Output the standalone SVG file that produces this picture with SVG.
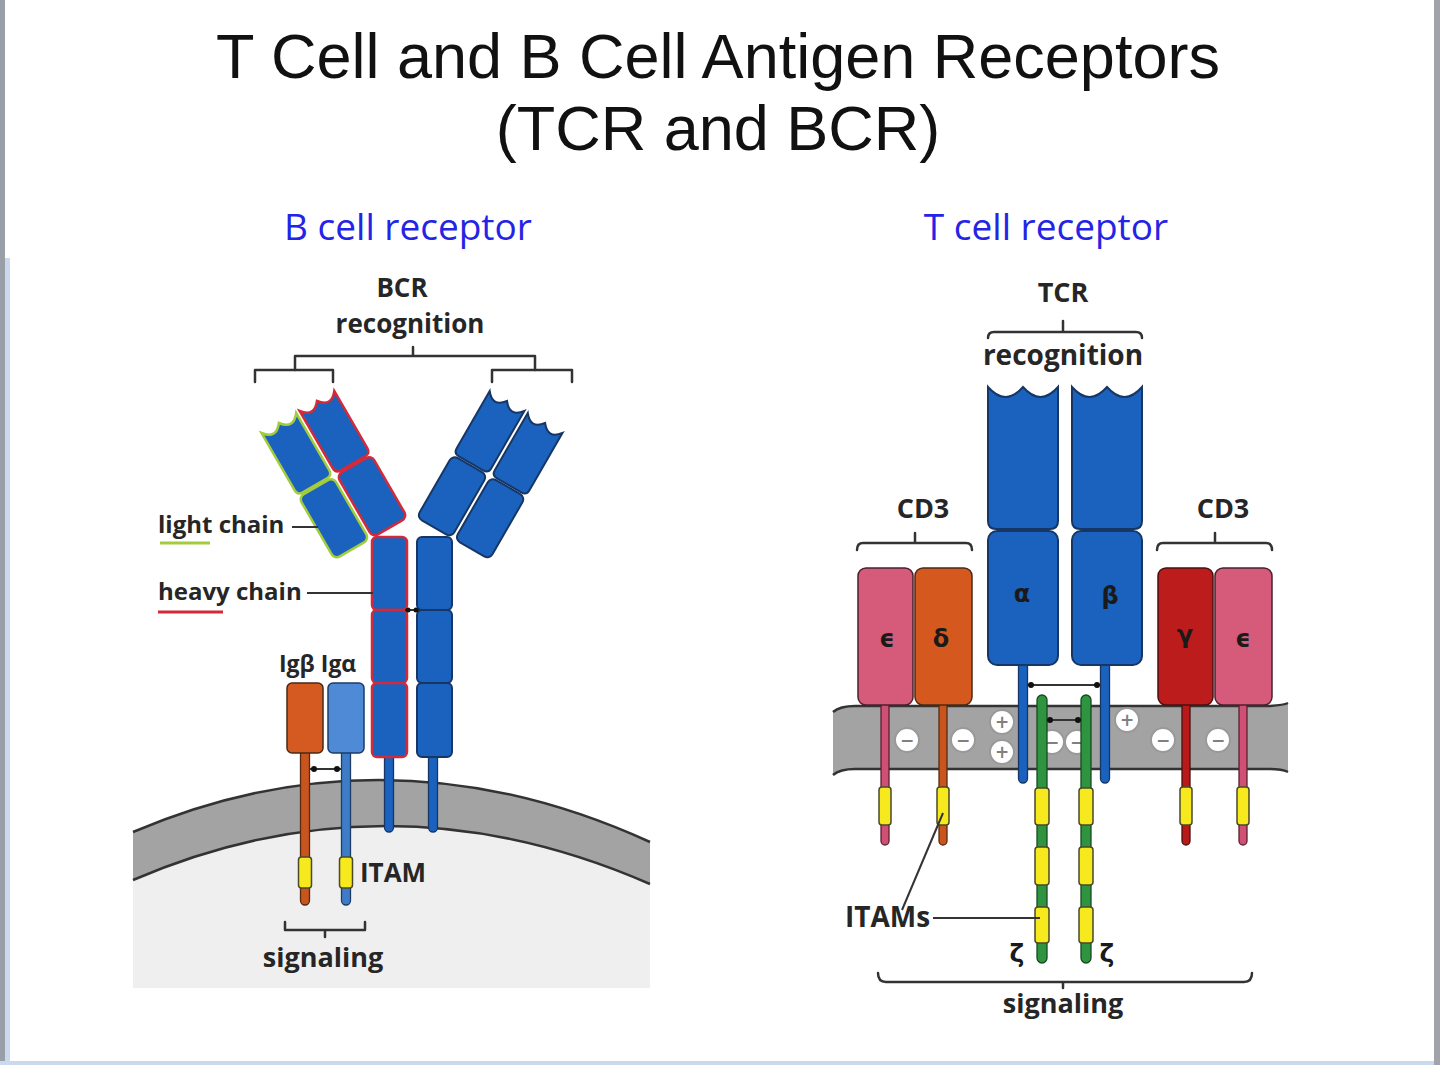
<svg xmlns="http://www.w3.org/2000/svg" width="1440" height="1065" viewBox="0 0 1440 1065">
<style>
.ttl{font-family:"Liberation Sans",Arial,sans-serif;fill:#111;text-anchor:middle;font-size:63px}
.sub{font-family:"Open Sans","Noto Sans",sans-serif;fill:#2424E6;text-anchor:middle;font-size:37px}
.lbl{font-family:"Open Sans","DejaVu Sans",sans-serif;font-weight:700;fill:#262626;font-size:27px}
.mid{text-anchor:middle}
.gk{font-family:"DejaVu Sans","Open Sans",sans-serif;font-weight:700;fill:#1a1a1a;font-size:24px;text-anchor:middle}
.dom{fill:#1A62BE;stroke:#163766;stroke-width:2}
.red{stroke:#D12B3B;stroke-width:2.5}
.grn{stroke:#A2CC3E;stroke-width:2.5}
.br{fill:none;stroke:#333;stroke-width:2.5;stroke-linejoin:round;stroke-linecap:round}
.ln{fill:none;stroke:#333;stroke-width:2}
.itam{fill:#F6EA1E;stroke:#4a4a2a;stroke-width:1.5}
.tl{stroke-width:1.3}
.ch{fill:#fff;stroke:#999;stroke-width:2}
.cs{font-family:"DejaVu Sans",sans-serif;font-weight:700;fill:#808080;font-size:17px;text-anchor:middle}
.dot{fill:#111}
.memf{fill:#A3A3A3}
.meme{fill:none;stroke:#333;stroke-width:2.5}
</style>
<defs>
<path id="vdom" d="M-20,0 Q-10,13 0,0 Q10,13 20,0 L20,66 Q20,72 14,72 L-14,72 Q-20,72 -20,66 Z"/>
</defs>
<rect width="1440" height="1065" fill="#fff"/>
<g id="frame">
<rect x="0" y="0" width="5" height="1065" fill="#9A9EA6"/>
<rect x="5" y="258" width="5" height="807" fill="#CBD9EE"/>
<rect x="0" y="1061" width="1440" height="4" fill="#CBD9EE"/>
<rect x="1434" y="0" width="6" height="1065" fill="#A0A4AA"/>
</g>
<g id="title">
<text class="ttl" x="718" y="78">T Cell and B Cell Antigen Receptors</text>
<text class="ttl" x="718" y="150">(TCR and BCR)</text>
</g>
<g id="subtitles">
<text class="sub" x="408" y="240">B cell receptor</text>
<text class="sub" x="1046" y="240">T cell receptor</text>
</g>

<!-- BCR -->
<g id="bcr-cell">
<path d="M133,880 Q389,770 650,884 L650,988 L133,988 Z" fill="#EFEFEF"/>
<path class="memf" d="M133,832 Q389,723 650,842 L650,884 Q389,770 133,880 Z"/>
<path class="meme" d="M133,832 Q389,723 650,842"/>
<path class="meme" d="M133,880 Q389,770 650,884"/>
</g>
<g id="bcr-fab-left" transform="translate(317,401) rotate(-30)">
<g id="heavy-fab-left">
<use href="#vdom" class="dom red"/>
<rect class="dom red" x="-20" y="74" width="40" height="72" rx="6"/>
</g>
<g id="light-chain-left" transform="translate(-44,0)">
<use href="#vdom" class="dom grn"/>
<rect class="dom grn" x="-20" y="74" width="40" height="72" rx="6"/>
</g>
</g>
<g id="bcr-fab-right" transform="translate(507,401) rotate(30)">
<use href="#vdom" class="dom"/>
<rect class="dom" x="-20" y="74" width="40" height="72" rx="6"/>
<g transform="translate(44,0)">
<use href="#vdom" class="dom"/>
<rect class="dom" x="-20" y="74" width="40" height="72" rx="6"/>
</g>
</g>
<g id="bcr-heavy-tails">
<rect x="384.5" y="750" width="9" height="82" rx="4.5" fill="#1A62BE" stroke="#163766" class="tl"/>
<rect x="428.5" y="750" width="9" height="82" rx="4.5" fill="#1A62BE" stroke="#163766" class="tl"/>
</g>
<g id="bcr-heavy-stem-left">
<rect class="dom red" x="372" y="537" width="35" height="73" rx="5"/>
<rect class="dom red" x="372" y="610" width="35" height="73" rx="5"/>
<rect class="dom red" x="372" y="683" width="35" height="74" rx="5"/>
</g>
<g id="bcr-heavy-stem-right">
<rect class="dom" x="417" y="537" width="35" height="73" rx="5"/>
<rect class="dom" x="417" y="610" width="35" height="73" rx="5"/>
<rect class="dom" x="417" y="683" width="35" height="74" rx="5"/>
</g>
<g id="ig-beta">
<rect x="300.5" y="748" width="9" height="157" rx="4.5" fill="#C8541E" stroke="#5a2a10" class="tl"/>
<rect x="287" y="683" width="36" height="70" rx="5" fill="#D45A22" stroke="#4a2a14" stroke-width="1.5"/>
<rect class="itam" x="298.5" y="857" width="13" height="31" rx="3"/>
</g>
<g id="ig-alpha">
<rect x="341.5" y="748" width="9" height="157" rx="4.5" fill="#3F7CC8" stroke="#1d3d66" class="tl"/>
<rect x="328" y="683" width="36" height="70" rx="5" fill="#4F8AD6" stroke="#1d3d66" stroke-width="1.5"/>
<rect class="itam" x="339.5" y="857" width="13" height="31" rx="3"/>
</g>
<g id="bcr-labels">
<text class="lbl mid" x="402" y="297" style="font-size:26px">BCR</text>
<text class="lbl mid" x="410" y="333" style="font-size:26px">recognition</text>
<text class="lbl" x="158" y="533" style="font-size:24px">light chain</text>
<text class="lbl" x="158" y="600" style="font-size:24px">heavy chain</text>
<text class="lbl" x="279" y="672" style="font-size:23px">Igβ Igα</text>
<text class="lbl" x="360" y="882" style="font-size:26px">ITAM</text>
<text class="lbl mid" x="323" y="967">signaling</text>
</g>

<!-- TCR -->
<g id="tcr-membrane">
<path class="memf" d="M833,712 Q840,706 855,706 L1270,706 Q1284,705 1288,703 L1288,772 Q1282,769 1270,769 L855,769 Q840,769 833,775 Z"/>
<path class="meme" d="M833,712 Q840,706 855,706 L1270,706 Q1284,705 1288,703"/>
<path class="meme" d="M833,775 Q840,769 855,769 L1270,769 Q1282,769 1288,772"/>
</g>
<g id="charges">
<circle class="ch" cx="907" cy="740" r="12"/><text class="cs" x="907" y="746">−</text>
<circle class="ch" cx="963" cy="740" r="12"/><text class="cs" x="963" y="746">−</text>
<circle class="ch" cx="1002" cy="722" r="12"/><text class="cs" x="1002" y="728">+</text>
<circle class="ch" cx="1002" cy="752" r="12"/><text class="cs" x="1002" y="758">+</text>
<circle class="ch" cx="1052" cy="742" r="12"/><text class="cs" x="1052" y="748">−</text>
<circle class="ch" cx="1077" cy="742" r="12"/><text class="cs" x="1077" y="748">−</text>
<circle class="ch" cx="1127" cy="720" r="12"/><text class="cs" x="1127" y="726">+</text>
<circle class="ch" cx="1163" cy="740" r="12"/><text class="cs" x="1163" y="746">−</text>
<circle class="ch" cx="1218" cy="740" r="12"/><text class="cs" x="1218" y="746">−</text>
</g>
<g id="cd3-epsilon-left">
<rect x="881" y="700" width="8" height="145" rx="4" fill="#CF5074" stroke="#5a2030" class="tl"/>
<rect x="858" y="568" width="55" height="137" rx="8" fill="#D65A7A" stroke="#4a2030" stroke-width="1.5"/>
<rect class="itam" x="879" y="787" width="12" height="38" rx="3"/>
<text class="gk" x="887" y="647">ϵ</text>
</g>
<g id="cd3-delta">
<rect x="939" y="700" width="8" height="145" rx="4" fill="#C8541E" stroke="#5a2a10" class="tl"/>
<rect x="915" y="568" width="57" height="137" rx="8" fill="#D5591F" stroke="#4a2a14" stroke-width="1.5"/>
<rect class="itam" x="937" y="787" width="12" height="38" rx="3"/>
<text class="gk" x="941" y="647">δ</text>
</g>
<g id="cd3-gamma">
<rect x="1182" y="700" width="8" height="145" rx="4" fill="#B81A1A" stroke="#4a1010" class="tl"/>
<rect x="1158" y="568" width="55" height="137" rx="8" fill="#BD1C1C" stroke="#4a1010" stroke-width="1.5"/>
<rect class="itam" x="1180" y="787" width="12" height="38" rx="3"/>
<text class="gk" x="1185" y="643">γ</text>
</g>
<g id="cd3-epsilon-right">
<rect x="1239" y="700" width="8" height="145" rx="4" fill="#CF5074" stroke="#5a2030" class="tl"/>
<rect x="1215" y="568" width="57" height="137" rx="8" fill="#D65A7A" stroke="#4a2030" stroke-width="1.5"/>
<rect class="itam" x="1237" y="787" width="12" height="38" rx="3"/>
<text class="gk" x="1243" y="647">ϵ</text>
</g>
<g id="tcr-alpha">
<rect x="1018.5" y="660" width="9" height="123" rx="4.5" fill="#1A62BE" stroke="#163766" class="tl"/>
<path class="dom" d="M988,387 Q1005.5,407 1023,387 Q1040.5,407 1058,387 L1058,521 Q1058,529 1050,529 L996,529 Q988,529 988,521 Z"/>
<rect class="dom" x="988" y="531" width="70" height="134" rx="9"/>
<text class="gk" x="1022" y="602">α</text>
</g>
<g id="tcr-beta">
<rect x="1100.5" y="660" width="9" height="123" rx="4.5" fill="#1A62BE" stroke="#163766" class="tl"/>
<path class="dom" d="M1072,387 Q1089.5,407 1107,387 Q1124.5,407 1142,387 L1142,521 Q1142,529 1134,529 L1080,529 Q1072,529 1072,521 Z"/>
<rect class="dom" x="1072" y="531" width="70" height="134" rx="9"/>
<text class="gk" x="1110" y="604">β</text>
</g>
<g id="zeta-left">
<rect x="1037" y="695" width="10" height="268" rx="5" fill="#2E9440" stroke="#174a20" class="tl"/>
<rect class="itam" x="1035" y="788" width="14" height="37" rx="3"/>
<rect class="itam" x="1035" y="847" width="14" height="38" rx="3"/>
<rect class="itam" x="1035" y="907" width="14" height="36" rx="3"/>
<text class="gk" x="1017" y="962" style="font-size:25px">ζ</text>
</g>
<g id="zeta-right">
<rect x="1081" y="695" width="10" height="268" rx="5" fill="#2E9440" stroke="#174a20" class="tl"/>
<rect class="itam" x="1079" y="788" width="14" height="37" rx="3"/>
<rect class="itam" x="1079" y="847" width="14" height="38" rx="3"/>
<rect class="itam" x="1079" y="907" width="14" height="36" rx="3"/>
<text class="gk" x="1107" y="962" style="font-size:25px">ζ</text>
</g>
<g id="tcr-labels">
<text class="lbl mid" x="1063" y="302">TCR</text>
<text class="lbl mid" x="1063" y="365" style="font-size:28px">recognition</text>
<text class="lbl mid" x="923" y="518">CD3</text>
<text class="lbl mid" x="1223" y="518">CD3</text>
<text class="lbl" x="845" y="927" style="font-size:28px">ITAMs</text>
<text class="lbl mid" x="1063" y="1013">signaling</text>
</g>

<g id="connectors">
<path class="br" d="M295,370 L295,356 L535,356 L535,370 M413,356 L413,347"/>
<path class="br" d="M255,382 L255,370 L333,370 L333,382"/>
<path class="br" d="M492,382 L492,370 L572,370 L572,382"/>
<path class="br" d="M285,922 L285,930 L365,930 L365,922 M325,930 L325,937"/>
<path class="ln" d="M292,527 L318,527"/>
<path class="ln" d="M307,593 L373,593"/>
<path d="M160,543 L210,543" stroke="#A2CC3E" stroke-width="3"/>
<path d="M158,612 L223,612" stroke="#D12B3B" stroke-width="3"/>
<path class="ln" d="M310,769 L341,769"/>
<circle class="dot" cx="314" cy="769" r="3"/><circle class="dot" cx="337" cy="769" r="3"/>
<path class="ln" d="M405,610 L419,610"/>
<circle class="dot" cx="408" cy="610" r="2.5"/><circle class="dot" cx="416" cy="610" r="2.5"/>
<path class="br" d="M988,338 Q988,332 994,332 L1136,332 Q1142,332 1142,338 M1063,332 L1063,321"/>
<path class="br" d="M857,550 Q857,543 863,543 L966,543 Q972,543 972,550 M915,543 L915,533"/>
<path class="br" d="M1157,550 Q1157,543 1163,543 L1266,543 Q1272,543 1272,550 M1215,543 L1215,533"/>
<path class="br" d="M878,973 Q878,982 886,982 L1244,982 Q1252,982 1252,973 M1063,982 L1063,988"/>
<path class="ln" d="M1027,685 L1101,685"/>
<circle class="dot" cx="1031" cy="685" r="3"/><circle class="dot" cx="1097" cy="685" r="3"/>
<path class="ln" d="M1047,720 L1081,720"/>
<circle class="dot" cx="1050" cy="720" r="3"/><circle class="dot" cx="1078" cy="720" r="3"/>
<path class="ln" d="M933,918 L1040,918"/>
<path class="ln" d="M902,910 L943,813"/>
</g>
</svg>
